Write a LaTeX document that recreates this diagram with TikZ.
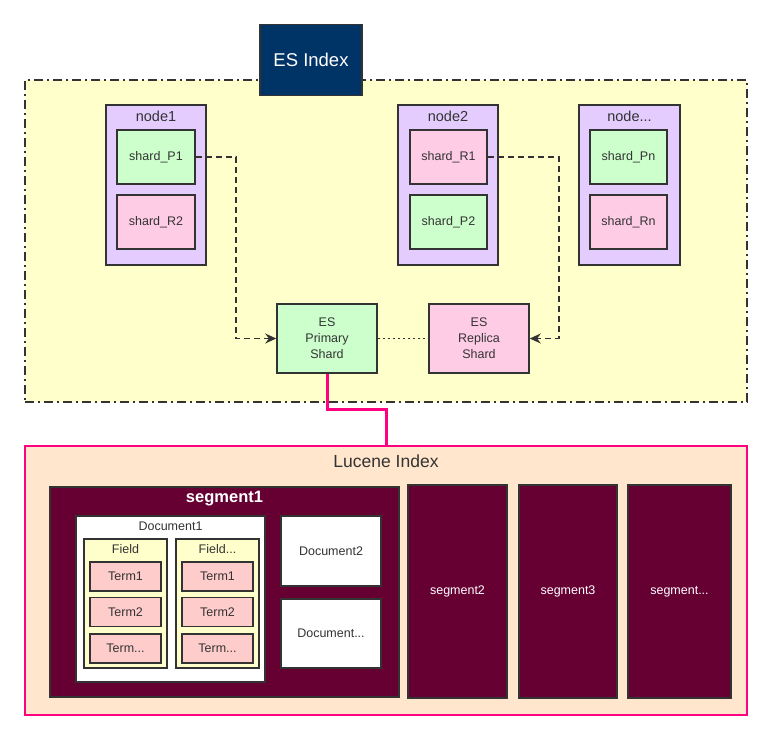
\documentclass[tikz,border=0pt]{standalone}
\usepackage{fontspec}
\setmainfont{Liberation Sans}
\usetikzlibrary{arrows.meta}
\definecolor{ln}{HTML}{333333}
\definecolor{yel}{HTML}{FFFFCC}
\definecolor{lav}{HTML}{E5CCFF}
\definecolor{grn}{HTML}{CCFFCC}
\definecolor{pnk}{HTML}{FFCCE6}
\definecolor{navy}{HTML}{003366}
\definecolor{peach}{HTML}{FFE6CC}
\definecolor{hot}{HTML}{FF0080}
\definecolor{seg}{HTML}{660033}
\definecolor{term}{HTML}{FFCCCC}
\tikzset{
  box/.style={draw=ln, line width=1.5pt, inner sep=0pt, text=ln, align=center,
    font=\fontsize{12.5}{16}\selectfont},
  lbl/.style={inner sep=0pt, text=ln, font=\fontsize{12.5}{16}\selectfont},
  dashconn/.style={draw=ln, line width=1.5pt, dash pattern=on 6pt off 4pt, -{Stealth[length=11pt,width=10pt]}},
}
\begin{document}
\begin{tikzpicture}[x=1pt,y=-1pt]
\useasboundingbox (0,0) rectangle (772,740);
% outer ES index area
\node[draw=ln, line width=1.5pt, fill=yel, dash pattern=on 9pt off 4pt on 2pt off 4pt,
  minimum width=722pt, minimum height=322pt] (area) at (386,241) {};
\node[box, fill=navy, text=white, minimum width=102pt, minimum height=71pt,
  font=\fontsize{18.5}{20}\selectfont] (esidx) at (311,60) {ES Index};
% node1
\node[box, fill=lav, minimum width=100pt, minimum height=160pt] (n1) at (156,185) {};
\node[lbl, font=\fontsize{14.5}{16}\selectfont] (n1l) at (156,116) {node1};
\node[box, fill=grn, minimum width=78pt, minimum height=54pt] (p1) at (156,157) {shard\_P1};
\node[box, fill=pnk, minimum width=78pt, minimum height=54pt] (r2) at (156,222) {shard\_R2};
% node2
\node[box, fill=lav, minimum width=100pt, minimum height=160pt] (n2) at (448,185) {};
\node[lbl, font=\fontsize{14.5}{16}\selectfont] (n2l) at (448,116) {node2};
\node[box, fill=pnk, minimum width=77pt, minimum height=54pt] (r1) at (448.5,157) {shard\_R1};
\node[box, fill=grn, minimum width=77pt, minimum height=54pt] (p2) at (448.5,222) {shard\_P2};
% node...
\node[box, fill=lav, minimum width=101pt, minimum height=160pt] (nn) at (629.5,185) {};
\node[lbl, font=\fontsize{14.5}{16}\selectfont] (nnl) at (629.5,116) {node...};
\node[box, fill=grn, minimum width=77pt, minimum height=54pt] (pn) at (628.5,157) {shard\_Pn};
\node[box, fill=pnk, minimum width=77pt, minimum height=54pt] (rn) at (628.5,222) {shard\_Rn};
% ES shards
\node[box, fill=grn, minimum width=100pt, minimum height=69pt] (prim) at (327,338.5) {ES\\Primary\\Shard};
\node[box, fill=pnk, minimum width=100pt, minimum height=69pt] (rep) at (479,338.5) {ES\\Replica\\Shard};
\draw[dashconn] (p1.east) -- ++(40,0) |- (prim.west);
\draw[dashconn] (r1.east) -- ++(71,0) |- (rep.east);
\draw[ln, line width=1.7pt, dash pattern=on 2pt off 3pt] (prim.east) -- (rep.west);
% Lucene index
\node[draw=hot, line width=2.5pt, fill=peach, minimum width=722pt, minimum height=269pt] (luc) at (386,580.5) {};
\node[lbl, font=\fontsize{17.5}{19}\selectfont] (lucl) at (386,461) {Lucene Index};
\draw[hot, line width=3pt] (prim.south) -- ++(0,36) -| (luc.north);
% segment1
\node[box, fill=seg, minimum width=349pt, minimum height=210pt] (s1) at (224.5,592) {};
\node[lbl, text=white, font=\fontsize{16.5}{18}\selectfont\bfseries] (s1l) at (224.5,499) {segment1};
\node[box, fill=white, minimum width=189pt, minimum height=166pt] (d1) at (170.5,599) {};
\node[lbl] (d1l) at (170.5,526) {Document1};
\node[box, fill=yel, minimum width=83pt, minimum height=129pt] (f1) at (125.5,603.5) {};
\node[lbl] (f1l) at (125.5,549) {Field};
\node[box, fill=term, minimum width=71pt, minimum height=29pt] (t11) at (125.5,576.5) {Term1};
\node[box, fill=term, minimum width=71pt, minimum height=29pt] (t12) at (125.5,612) {Term2};
\node[box, fill=term, minimum width=71pt, minimum height=29pt] (t13) at (125.5,648.5) {Term...};
\node[box, fill=yel, minimum width=83pt, minimum height=129pt] (f2) at (217.5,603.5) {};
\node[lbl] (f2l) at (217.5,549) {Field...};
\node[box, fill=term, minimum width=71pt, minimum height=29pt] (t21) at (217.5,576.5) {Term1};
\node[box, fill=term, minimum width=71pt, minimum height=29pt] (t22) at (217.5,612) {Term2};
\node[box, fill=term, minimum width=71pt, minimum height=29pt] (t23) at (217.5,648.5) {Term...};
\node[box, fill=white, minimum width=100pt, minimum height=70pt] (d2) at (331,551) {Document2};
\node[box, fill=white, minimum width=100pt, minimum height=69pt] (d3) at (331,633.5) {Document...};
% other segments
\node[box, fill=seg, text=white, minimum width=99pt, minimum height=213pt] (s2) at (457.5,591.5) {segment2};
\node[box, fill=seg, text=white, minimum width=98pt, minimum height=213pt] (s3) at (568,591.5) {segment3};
\node[box, fill=seg, text=white, minimum width=103pt, minimum height=213pt] (s4) at (679.5,591.5) {segment...};
\end{tikzpicture}
\end{document}
